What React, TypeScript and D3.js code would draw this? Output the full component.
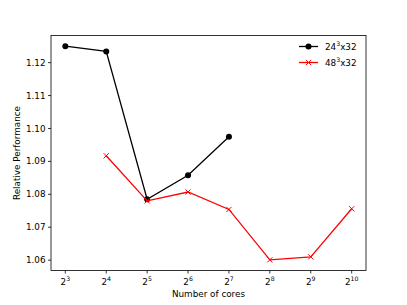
import React from "react";
import * as d3 from "d3";

const exponents = [3, 4, 5, 6, 7, 8, 9, 10];
const blackExps = [3, 4, 5, 6, 7];
const blackVals = [1.125, 1.1234, 1.0785, 1.0858, 1.0975];
const redExps = [4, 5, 6, 7, 8, 9, 10];
const redVals = [1.0917, 1.078, 1.0807, 1.0754, 1.0601, 1.061, 1.0756];
const yTicks = [1.06, 1.07, 1.08, 1.09, 1.1, 1.11, 1.12];
const seriesLabels = ["24", "48"];

const W = 407, H = 305;
const L = 51, R = 366, T = 35.5, B = 270.5;
const font = "DejaVu Sans, sans-serif";

export default function App() {
  const x = d3.scaleLinear().domain([2.65, 10.35]).range([L, R]);
  const allVals = [...blackVals, ...redVals];
  const mn = d3.min(allVals)!, mx = d3.max(allVals)!;
  const pad = (mx - mn) * 0.05;
  const y = d3.scaleLinear().domain([mn - pad, mx + pad]).range([B, T]);
  const line = d3.line<[number, number]>().x(d => x(d[0])).y(d => y(d[1]));
  const bPts = blackExps.map((e, i) => [e, blackVals[i]] as [number, number]);
  const rPts = redExps.map((e, i) => [e, redVals[i]] as [number, number]);
  const ms = 2.6;
  const cr = 3;
  return (
    <svg width={W} height={H} style={{ position: "absolute", left: 0, top: 0 }}>
      <rect width={W} height={H} fill="#fff" />
      <defs>
        <clipPath id="clip"><rect x={L} y={T} width={R - L} height={B - T} /></clipPath>
      </defs>
      <g clipPath="url(#clip)">
        <path d={line(bPts)!} fill="none" stroke="#000" strokeWidth={1.3} />
        {bPts.map((p, i) => <circle key={i} cx={x(p[0])} cy={y(p[1])} r={cr} fill="#000" />)}
        <path d={line(rPts)!} fill="none" stroke="#ff0000" strokeWidth={1.3} />
        {rPts.map((p, i) => (
          <path key={i} transform={`translate(${x(p[0])},${y(p[1])})`}
            d={`M${-ms},${-ms}L${ms},${ms}M${-ms},${ms}L${ms},${-ms}`} stroke="#ff0000" strokeWidth={1} />
        ))}
      </g>
      <rect x={L} y={T} width={R - L} height={B - T} fill="none" stroke="#000" strokeWidth={0.8} />
      {yTicks.map(t => (
        <g key={t}>
          <line x1={L - 3} x2={L} y1={y(t)} y2={y(t)} stroke="#000" strokeWidth={0.8} />
          <text x={L - 5.5} y={y(t)} dy="0.35em" textAnchor="end" fontFamily={font} fontSize={8.8}>{t.toFixed(2)}</text>
        </g>
      ))}
      {exponents.map(e => (
        <g key={e}>
          <line x1={x(e)} x2={x(e)} y1={B} y2={B + 3} stroke="#000" strokeWidth={0.8} />
          <text x={x(e)} y={B + 14} textAnchor="middle" fontFamily={font} fontSize={8.8}>
            2<tspan fontSize={6.2} dy={-4}>{e}</tspan>
          </text>
        </g>
      ))}
      <text x={(L + R) / 2} y={297} textAnchor="middle" fontFamily={font} fontSize={8.8}>Number of cores</text>
      <text transform={`translate(20,${(T + B) / 2}) rotate(-90)`} textAnchor="middle" fontFamily={font} fontSize={8.8}>Relative Performance</text>
      <g>
        <line x1={299} x2={318} y1={46.5} y2={46.5} stroke="#000" strokeWidth={1.3} />
        <circle cx={308.5} cy={46.5} r={cr} fill="#000" />
        <text x={325} y={46.5} dy="0.35em" fontFamily={font} fontSize={8.8}>
          {seriesLabels[0]}<tspan fontSize={6.2} dy={-4}>3</tspan><tspan dy={4}>x32</tspan>
        </text>
        <line x1={299} x2={318} y1={62.5} y2={62.5} stroke="#ff0000" strokeWidth={1.3} />
        <path transform="translate(308.5,62.5)" d={`M${-ms},${-ms}L${ms},${ms}M${-ms},${ms}L${ms},${-ms}`} stroke="#ff0000" strokeWidth={1} />
        <text x={325} y={62.5} dy="0.35em" fontFamily={font} fontSize={8.8}>
          {seriesLabels[1]}<tspan fontSize={6.2} dy={-4}>3</tspan><tspan dy={4}>x32</tspan>
        </text>
      </g>
    </svg>
  );
}
